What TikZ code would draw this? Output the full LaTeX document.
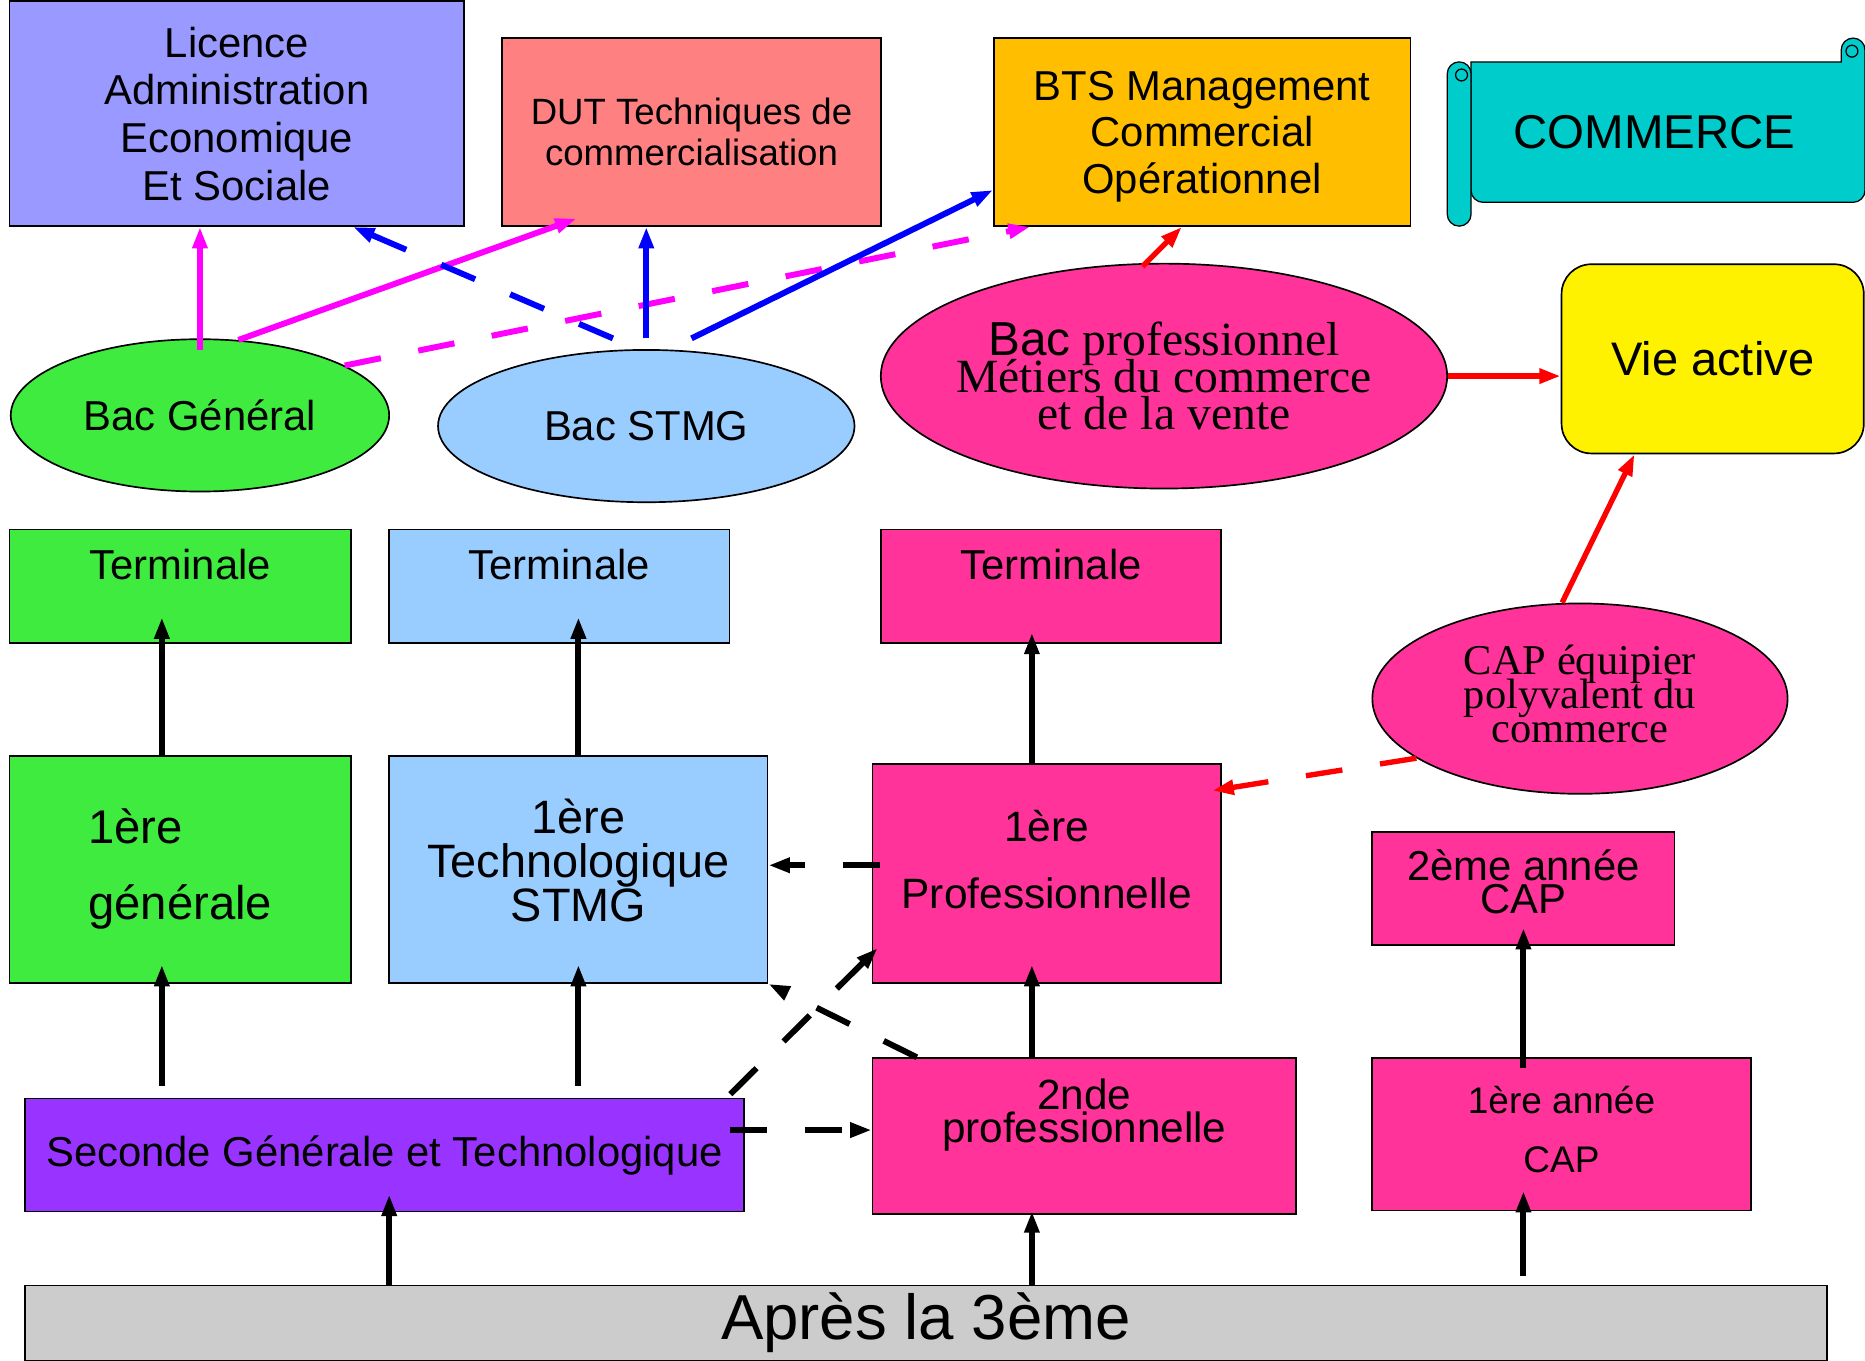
\documentclass[tikz,border=0pt]{standalone}
\usepackage{fontspec}
\setmainfont{Liberation Sans}
\newfontfamily\timesface{Liberation Serif}
\usetikzlibrary{shapes.geometric, arrows.meta, calc, positioning}
\definecolor{licence}{RGB}{153,153,255}
\definecolor{dut}{RGB}{255,128,128}
\definecolor{bts}{RGB}{255,191,0}
\definecolor{commerce}{RGB}{0,204,204}
\definecolor{general}{RGB}{64,235,64}
\definecolor{stmg}{RGB}{153,204,255}
\definecolor{pro}{RGB}{255,51,153}
\definecolor{seconde}{RGB}{153,51,255}
\definecolor{apres}{RGB}{204,204,204}
\definecolor{versgen}{RGB}{255,0,255}
\definecolor{verstec}{RGB}{0,0,255}
\definecolor{verspro}{RGB}{255,0,0}
\setlength{\lineskiplimit}{-100pt}

\begin{document}
\begin{tikzpicture}[x=0.02cm, y=-0.02cm]

% TikZ styles
\tikzset{
  box/.style={rectangle, draw=black, line width=0.8pt, inner sep=0pt, align=center},
  oval/.style={ellipse, draw=black, line width=0.8pt, inner sep=0pt, align=center},
  arrow/.style={-{Triangle[length=0.36cm, width=0.24cm]}, line width=0.1cm},
  dasharrow/.style={arrow, dash pattern=on 0.62cm off 0.64cm},
  scroll/.style={draw=black, line width=0.6pt, fill=commerce}
}
\useasboundingbox (0,0) rectangle (1567,1143.5);

%==========================
% Apres le bac (haut)
%==========================
\node[box, fill=licence, minimum width=7.64cm, minimum height=3.78cm,
      font=\fontsize{20}{22.8}\selectfont] (licence) at (199,95.5)
      {Licence\\Administration\\Economique\\Et Sociale};
\node[box, fill=dut, minimum width=6.36cm, minimum height=3.16cm,
      font=\fontsize{17.5}{19.9}\selectfont] (dut) at (581,111)
      {DUT Techniques de\\commercialisation};
\node[box, fill=bts, minimum width=7cm, minimum height=3.16cm, text depth=0pt,
      font=\fontsize{20}{22.2}\selectfont] (bts) at (1010,111)
      {BTS Management\\Commercial\\Opérationnel};

% parchemin
\draw[scroll] (1236,52) -- (1547,52) [rounded corners=0.2cm] -- (1547,32) -- (1567,32)
  -- (1567,170) -- (1236,170) [sharp corners] -- cycle;
\draw[scroll, rounded corners=0.2cm] (1216,52) rectangle (1236,190);
\draw[line width=0.6pt] (1228,63) circle (0.1cm);
\draw[line width=0.6pt] (1556,43) circle (0.1cm);
\node[font=\fontsize{22.7}{26}\selectfont] (commerce) at (1390,111) {COMMERCE};

%==========================
% Les bacs
%==========================
\node[oval, fill=general, minimum width=6.36cm, minimum height=2.56cm,
      font=\fontsize{20}{24}\selectfont] (bacgen) at (168,349) {Bac Général};
\node[oval, fill=stmg, minimum width=7cm, minimum height=2.56cm,
      font=\fontsize{20}{24}\selectfont] (bacstmg) at (543,358) {Bac STMG};
\node[oval, fill=pro, minimum width=9.52cm, minimum height=3.78cm, inner xsep=-0.25cm,
      font=\timesface\fontsize{22.8}{17.6}\selectfont] (bacpro) at (978,316)
      {{\rmfamily Bac} professionnel\\Métiers du commerce\\et de la vente};
\node[box, fill=yellow, rounded corners=0.5cm, minimum width=5.08cm, minimum height=3.18cm,
      font=\fontsize{22.5}{26}\selectfont] (vie) at (1439,301.5) {Vie active};

%==========================
% Lycee
%==========================
\node[box, fill=general, minimum width=5.74cm, minimum height=1.9cm, text depth=0.72cm,
      font=\fontsize{20}{24}\selectfont] (termgen) at (151.5,492.5) {Terminale};
\node[box, fill=stmg, minimum width=5.72cm, minimum height=1.9cm, text depth=0.72cm,
      font=\fontsize{20}{24}\selectfont] (termtec) at (470,492.5) {Terminale};
\node[box, fill=pro, minimum width=5.72cm, minimum height=1.9cm, text depth=0.72cm,
      font=\fontsize{20}{24}\selectfont] (termpro) at (883,492.5) {Terminale};

\node[box, fill=general, minimum width=5.74cm, minimum height=3.82cm, align=left,
      font=\fontsize{22.6}{36.4}\selectfont] (gen1) at (151.5,730.5) {1ère\\générale};
\node[box, fill=stmg, minimum width=6.36cm, minimum height=3.82cm, text depth=0.3cm,
      font=\fontsize{22.4}{21}\selectfont] (tec1) at (486,730.5) {1ère\\Technologique\\STMG};
\node[box, fill=pro, minimum width=5.86cm, minimum height=3.68cm, text depth=0.48cm,
      font=\fontsize{20.3}{31.9}\selectfont] (pro1) at (879.5,734) {1ère\\Professionnelle};

\node[oval, fill=pro, minimum width=6.98cm, minimum height=3.2cm, text depth=0.16cm,
      font=\timesface\fontsize{20.3}{16.2}\selectfont] (capell) at (1327.5,587)
      {CAP équipier\\polyvalent du\\commerce};
\node[box, fill=pro, minimum width=5.08cm, minimum height=1.9cm, text depth=0.24cm,
      font=\fontsize{20}{15.9}\selectfont] (cap2) at (1280,746.5) {2ème année\\CAP};

\node[box, fill=seconde, minimum width=12.08cm, minimum height=1.9cm,
      font=\fontsize{20}{24}\selectfont] (seconde) at (323,970.5) {Seconde Générale et Technologique};
\node[box, fill=pro, minimum width=7.12cm, minimum height=2.62cm, text depth=0.86cm,
      font=\fontsize{20.2}{15.9}\selectfont] (pro2) at (911,954.5) {2nde\\professionnelle};
\node[box, fill=pro, minimum width=6.36cm, minimum height=2.56cm, text depth=0.16cm,
      font=\fontsize{17.7}{28.5}\selectfont] (cap1) at (1312,953) {1ère année\\CAP};

\node[box, fill=apres, minimum width=30.28cm, minimum height=1.26cm,
      font=\fontsize{30.4}{34}\selectfont] (apres) at (778,1111.5) {Après la 3ème};

% colonnes des fleches
\coordinate (cgen) at (136,0);
\coordinate (ctec) at (486,0);
\coordinate (csec) at (327,0);
\coordinate (cpro) at (867,0);
\coordinate (ccap) at (1280,0);

%Fleches noires
\draw[arrow, shorten <=0.2cm, shorten >=-0.32cm] (cgen |- seconde.north) -- (cgen |- gen1.south);
\draw[arrow, shorten >=-0.44cm] (cgen |- gen1.north) -- (cgen |- termgen.south);
\draw[arrow, shorten <=0.2cm, shorten >=-0.32cm] (ctec |- seconde.north) -- (ctec |- tec1.south);
\draw[arrow, shorten >=-0.44cm] (ctec |- tec1.north) -- (ctec |- termtec.south);
\draw[arrow, shorten >=-0.3cm] (csec |- apres.north) -- (csec |- seconde.south);
\draw[arrow, shorten >=-0.06cm] (cpro |- apres.north) -- (cpro |- pro2.south);
\draw[arrow, shorten >=-0.32cm] (cpro |- pro2.north) -- (cpro |- pro1.south);
\draw[arrow, shorten >=-0.18cm] (cpro |- pro1.north) -- (cpro |- termpro.south);
\draw[arrow, shorten <=0.14cm, shorten >=-0.34cm] (ccap |- apres.north) -- (ccap |- cap1.south);
\draw[arrow, shorten <=-0.18cm, shorten >=-0.3cm] (ccap |- cap1.north) -- (ccap |- cap2.south);

%Passerelles
\draw[dasharrow] ($(pro1.west)+(7,-7)$) -- ($(tec1.east |- pro1.west)+(0,-7)$);
\draw[dasharrow] ($(seconde.east |- pro2.west)+(-12,-5)$) -- ($(pro2.west)+(0,-5)$);
\draw[dasharrow] ($(seconde.north east)+(-12,-3)$) -- ($(pro1.south west)+(5,-30)$);
\draw[dasharrow] ($(pro2.north west)+(38,0)$) -- (tec1.south east);

%Fleches vers le superieur
\draw[arrow, versgen, shorten <=-0.2cm] (bacgen.north) -- (bacgen.north |- licence.south);
\draw[arrow, versgen] (bacgen.63) -- ($(dut.south west)+(63,-7)$);
\draw[dasharrow, versgen] (bacgen.19) -- ($(bts.south west)+(31,0)$);

\draw[arrow, verstec, shorten <=0.18cm] (bacstmg.north) -- (bacstmg.north |- dut.south);
\draw[arrow, verstec] ($(bacstmg.north)+(38,-9)$) -- ($(bts.south west)+(0,-31)$);
\draw[dasharrow, verstec] ($(bacstmg.north)+(-28,-9)$) -- ($(licence.south east)+(-94,0)$);

\draw[arrow, verspro, line width=0.09cm] ($(bacpro.north)+(-18,3)$) -- ($(bts.south)+(-17,0)$);
\draw[arrow, verspro, line width=0.09cm] (bacpro.east) -- (bacpro.east -| vie.west);
\draw[arrow, verspro, line width=0.09cm] ($(capell.north)+(-15,0)$) -- ($(vie.south west)+(62,0)$);
\draw[dasharrow, verspro, line width=0.09cm] (capell.200) -- ($(pro1.north east)+(-8,23)$);

\end{tikzpicture}
\end{document}
